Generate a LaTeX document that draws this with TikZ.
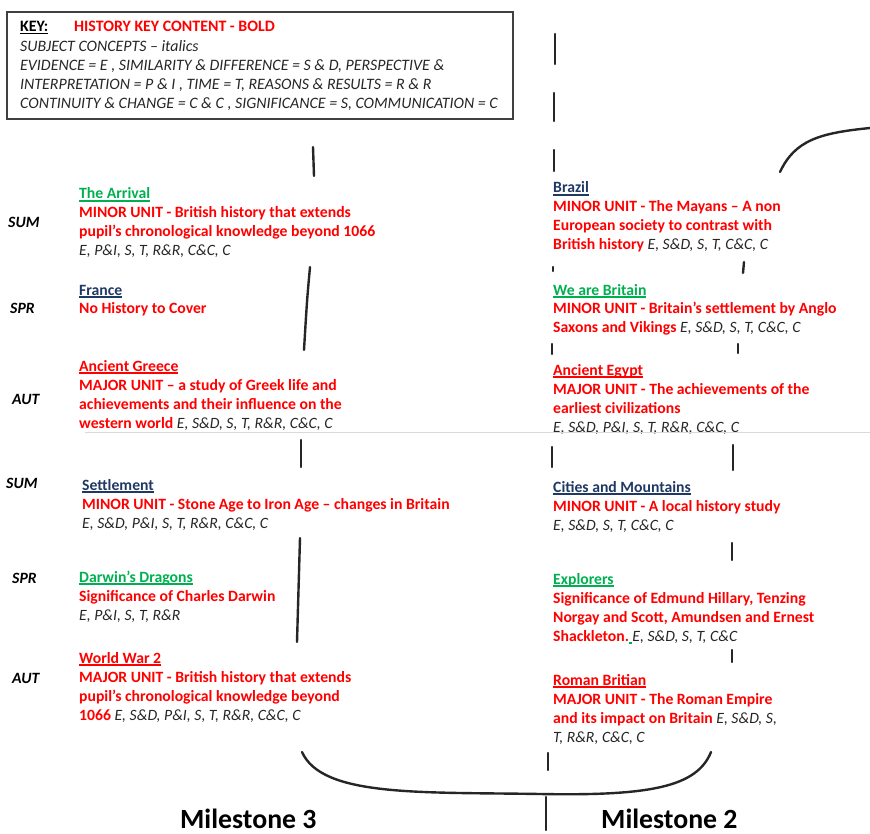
\documentclass[tikz,border=0pt]{standalone}
\usepackage{fontspec}
\setmainfont{Carlito}
\usetikzlibrary{calc}

\definecolor{unitred}{HTML}{FF0000}
\definecolor{unitgreen}{HTML}{00B050}
\definecolor{unitblue}{HTML}{1F3864}
\definecolor{codegray}{HTML}{262626}

% underlined unit title, rule at a fixed depth
\newcommand{\ttl}[2]{{\color{#1}\setbox0\hbox{#2}\rlap{\rule[-2.6pt]{\wd0}{1.2pt}}\box0}}
\newcommand{\codes}[1]{{\mdseries\itshape\color{codegray}#1}}

\begin{document}
\begin{tikzpicture}[x=1pt, y=-1pt,
  % multi-line nodes sit on the baseline of their last line
  unit/.style={anchor=base west, align=left, inner sep=0pt, text=unitred,
    font=\fontsize{15.7}{19}\selectfont\bfseries},
  season/.style={anchor=base west, inner sep=0pt, text=black,
    font=\fontsize{15.7}{19}\selectfont\bfseries\itshape},
  keytext/.style={anchor=base west, align=left, inner sep=0pt, text=codegray,
    font=\fontsize{15.9}{19}\selectfont\itshape},
  milestone/.style={anchor=base west, inner sep=0pt, font=\fontsize{27.8}{30}\selectfont\bfseries},
  pen/.style={line width=2.4pt, line cap=round, black!85},
]
\useasboundingbox (0,0) rectangle (870,834);

% === key ===
\draw[line width=1.2pt, black!75] (7,12) rectangle (513,119);
\node[anchor=base west, inner sep=0pt, font=\fontsize{15.9}{19}\selectfont\bfseries] (keyhead) at (20,32) {\underline{KEY:}};
\node[anchor=base west, inner sep=0pt, text=unitred, font=\fontsize{15.9}{19}\selectfont\bfseries] (keybold) at (74,32) {HISTORY KEY CONTENT - BOLD};
\node[keytext] (keybody) at (20,109) {SUBJECT CONCEPTS -- italics\\
  EVIDENCE = E , SIMILARITY \& DIFFERENCE = S \& D, PERSPECTIVE \&\\
  INTERPRETATION = P \& I , TIME = T, REASONS \& RESULTS = R \& R\\
  CONTINUITY \& CHANGE = C \& C , SIGNIFICANCE = S, COMMUNICATION = C};

% === seasons ===
\node[season] (sumA) at (8,228) {SUM};
\node[season] (sprA) at (10,314) {SPR};
\node[season] (autA) at (12,404) {AUT};
\node[season] (sumB) at (6,488) {SUM};
\node[season] (sprB) at (12,583) {SPR};
\node[season] (autB) at (12,683) {AUT};

% === Milestone 3 ===
\node[unit] (arrival) at (79,256) {\ttl{unitgreen}{The Arrival}\\
  MINOR UNIT - British history that extends\\
  pupil’s chronological knowledge beyond 1066\\
  \codes{E, P\&I, S, T, R\&R, C\&C, C}};
\node[unit] (france) at (79,314) {\ttl{unitblue}{France}\\
  No History to Cover};
\node[unit] (greece) at (79,428) {\ttl{unitred}{Ancient Greece}\\
  MAJOR UNIT -- a study of Greek life and\\
  achievements and their influence on the\\
  western world \codes{E, S\&D, S, T, R\&R, C\&C, C}};
\node[unit] (settlement) at (82,528) {\ttl{unitblue}{Settlement}\\
  MINOR UNIT - Stone Age to Iron Age -- changes in Britain\\
  \codes{E, S\&D, P\&I, S, T, R\&R, C\&C, C}};
\node[unit] (darwin) at (79,620) {\ttl{unitgreen}{Darwin’s Dragons}\\
  Significance of Charles Darwin\\
  \codes{E, P\&I, S, T, R\&R}};
\node[unit] (ww2) at (79,720) {\ttl{unitred}{World War 2}\\
  MAJOR UNIT - British history that extends\\
  pupil’s chronological knowledge beyond\\
  1066 \codes{E, S\&D, P\&I, S, T, R\&R, C\&C, C}};

% === Milestone 2 ===
\node[unit] (brazil) at (553,250) {\ttl{unitblue}{Brazil}\\
  MINOR UNIT - The Mayans -- A non\\
  European society to contrast with\\
  British history \codes{E, S\&D, S, T, C\&C, C}};
\node[unit] (britain) at (553,333) {\ttl{unitgreen}{We are Britain}\\
  MINOR UNIT - Britain{\char39}s settlement by Anglo\\
  Saxons and Vikings \codes{E, S\&D, S, T, C\&C, C}};
\node[unit] (egypt) at (553,432) {\ttl{unitred}{Ancient Egypt}\\
  MAJOR UNIT - The achievements of the\\
  earliest civilizations\\
  \codes{E, S\&D, P\&I, S, T, R\&R, C\&C, C}};
\node[unit] (cities) at (553,530) {\ttl{unitblue}{Cities and Mountains}\\
  MINOR UNIT - A local history study\\
  \codes{E, S\&D, S, T, C\&C, C}};
\node[unit] (explorers) at (553,641) {\ttl{unitgreen}{Explorers}\\
  Significance of Edmund Hillary, Tenzing\\
  Norgay and Scott, Amundsen and Ernest\\
  Shackleton.\ttl{unitgreen}{\hspace{3.5pt}}\codes{E, S\&D, S, T, C\&C}};
\node[unit] (roman) at (553,742) {\ttl{unitred}{Roman Britian}\\
  MAJOR UNIT - The Roman Empire\\
  and its impact on Britain \codes{E, S\&D, S,}\\
  \codes{T, R\&R, C\&C, C}};

\node[milestone] (ms3) at (180,828) {Milestone 3};
\node[milestone] (ms2) at (601,828) {Milestone 2};

% faint page rule
\draw[black!15, line width=0.6pt] (85,432) -- (870,432);

% hand drawn strokes
\draw[pen] (313,147) -- (314,176);
\draw[pen] (310,267) .. controls (307,300) .. (304,350);
\draw[pen] (301,440) -- (301,467);
\draw[pen] (300,538) .. controls (298,590) .. (297,642);
\draw[pen] (555,34) -- (555,64);
\draw[pen] (554,93) -- (554,121);
\draw[pen] (554,150) -- (554,171);
\draw[pen] (553,267) -- (553,271);
\draw[pen] (552,344) -- (552,354);
\draw[pen] (552,447) -- (552,467);
\draw[pen] (744,262) -- (743,273);
\draw[pen] (738,344) -- (738,353);
\draw[pen] (733,445) -- (733,470);
\draw[pen] (732,543) -- (732,560);
\draw[pen] (732,650) -- (732,662);
\draw[pen] (780,172) .. controls (795,140) and (820,133) .. (870,128);
\draw[pen] (302,752) .. controls (322,797) and (420,792) .. (540,794)
  .. controls (650,796) and (697,787) .. (711,752);
\draw[pen] (548,753) -- (548,770);
\draw[pen] (546,797) -- (546,830);
\end{tikzpicture}
\end{document}
